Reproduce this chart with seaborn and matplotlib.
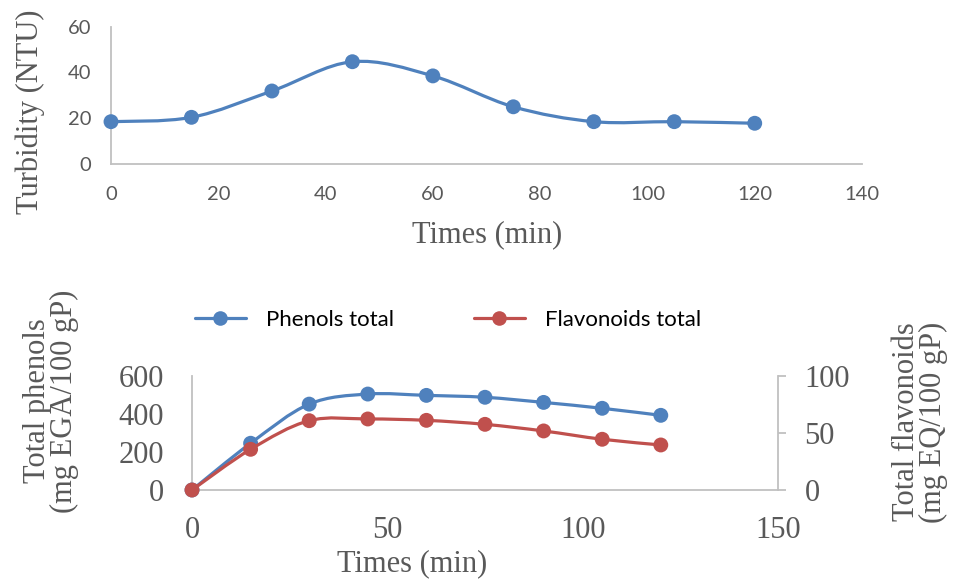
import numpy as np
import pandas as pd
import matplotlib
matplotlib.use("Agg")
import matplotlib.pyplot as plt
import seaborn as sns
from matplotlib.path import Path
from matplotlib.patches import PathPatch
from matplotlib.lines import Line2D

# ---- data ----
times = [0, 15, 30, 45, 60, 75, 90, 105, 120]
turbidity = [18.5, 20.4, 31.9, 44.7, 38.5, 25.0, 18.5, 18.5, 17.8]
phenols = [0, 246, 452, 505, 498, 488, 461, 430, 393]
flavonoids = [0, 35.7, 60.8, 62.3, 61.1, 57.6, 51.8, 44.5, 39.5]

top_xticks = [0, 20, 40, 60, 80, 100, 120, 140]
top_yticks = [0, 20, 40, 60]
bot_xticks = [0, 50, 100, 150]
left_yticks = [0, 200, 400, 600]
right_yticks = [0, 50, 100]

BLUE = "#4F81BD"
RED = "#C0504D"
GRAY_TXT = "#595959"
GRAY_AX = "#C0C0C0"

sns.set_theme(style="white")
plt.rcParams["font.family"] = ["DejaVu Sans"]

SERIF = "Liberation Serif"
SANS = "Lato"


def smooth_curve(ax, x, y, color, lw=2.3, zorder=2):
    p = np.column_stack([np.asarray(x, float), np.asarray(y, float)])
    n = len(p)
    verts = [tuple(p[0])]
    codes = [Path.MOVETO]
    for i in range(n - 1):
        p0 = p[i - 1] if i > 0 else p[i]
        p3 = p[i + 2] if i + 2 < n else p[i + 1]
        c1 = p[i] + (p[i + 1] - p0) / 6.0
        c2 = p[i + 1] - (p3 - p[i]) / 6.0
        verts += [tuple(c1), tuple(c2), tuple(p[i + 1])]
        codes += [Path.CURVE4] * 3
    patch = PathPatch(Path(verts, codes), facecolor="none", edgecolor=color,
                      lw=lw, zorder=zorder, capstyle="round", joinstyle="round")
    ax.add_patch(patch)


fig = plt.figure(figsize=(9.55, 5.79), dpi=100)
W, H = 955.0, 579.0

# ---------------- top chart ----------------
ax1 = fig.add_axes([111 / W, 1 - 164 / H, 751 / W, 137.3 / H])
df_t = pd.DataFrame({"Time": times, "Turbidity": turbidity})
smooth_curve(ax1, df_t["Time"], df_t["Turbidity"], BLUE)
sns.scatterplot(data=df_t, x="Time", y="Turbidity", ax=ax1, color=BLUE,
                s=115, edgecolor="none", zorder=3, legend=False, clip_on=False)
ax1.set_xlim(0, 140)
ax1.set_ylim(0, 60)
ax1.set_xticks(top_xticks)
ax1.set_yticks(top_yticks)
ax1.tick_params(axis="both", length=0, labelsize=14.5, colors=GRAY_TXT)
ax1.tick_params(axis="x", pad=16)
ax1.tick_params(axis="y", pad=14)
for lab in ax1.get_xticklabels() + ax1.get_yticklabels():
    lab.set_fontfamily(SANS)
for s in ["top", "right"]:
    ax1.spines[s].set_visible(False)
for s in ["left", "bottom"]:
    ax1.spines[s].set_color(GRAY_AX)
    ax1.spines[s].set_linewidth(1.3)
ax1.set_xlabel("")
ax1.set_ylabel("")
fig.text(487 / W, 1 - 235 / H, "Times (min)", ha="center", va="center",
         fontsize=22, family=SERIF, color=GRAY_TXT)
fig.text(30 / W, 1 - 112 / H, "Turbidity (NTU)", ha="center", va="center",
         rotation=90, fontsize=22, family=SERIF, color=GRAY_TXT)

# ---------------- bottom chart ----------------
ax2 = fig.add_axes([192 / W, 1 - 490 / H, 586 / W, 114 / H])
ax3 = ax2.twinx()
df_b = pd.DataFrame({"Time": times, "Phenols": phenols, "Flavonoids": flavonoids})

smooth_curve(ax2, df_b["Time"], df_b["Phenols"], BLUE)
sns.scatterplot(data=df_b, x="Time", y="Phenols", ax=ax2, color=BLUE,
                s=115, edgecolor="none", zorder=3, legend=False, clip_on=False)
smooth_curve(ax3, df_b["Time"], df_b["Flavonoids"], RED)
sns.scatterplot(data=df_b, x="Time", y="Flavonoids", ax=ax3, color=RED,
                s=115, edgecolor="none", zorder=3, legend=False, clip_on=False)

ax2.set_xlim(0, 150)
ax2.set_ylim(0, 600)
ax3.set_ylim(0, 100)
ax2.set_xticks(bot_xticks)
ax2.set_yticks(left_yticks)
ax3.set_yticks(right_yticks)
ax2.tick_params(axis="both", length=0, labelsize=22, colors=GRAY_TXT)
ax2.tick_params(axis="x", pad=19)
ax2.tick_params(axis="y", pad=20)
ax3.tick_params(axis="y", length=6, width=1.3, color=GRAY_AX, direction="out",
                labelsize=22, labelcolor=GRAY_TXT, pad=13)
for lab in ax2.get_xticklabels() + ax2.get_yticklabels() + ax3.get_yticklabels():
    lab.set_fontfamily(SERIF)
for a in (ax2, ax3):
    a.spines["top"].set_visible(False)
    for s in ["left", "bottom", "right"]:
        a.spines[s].set_color(GRAY_AX)
        a.spines[s].set_linewidth(1.3)
    a.set_xlabel("")
    a.set_ylabel("")
ax2.spines["right"].set_visible(False)
ax3.spines["left"].set_visible(False)
ax3.spines["bottom"].set_visible(False)
ax3.grid(False)
ax2.grid(False)

fig.text(51 / W, 1 - 401 / H, "Total phenols\n(mg EGA/100 gP)", ha="center",
         va="center", rotation=90, fontsize=22, family=SERIF, color=GRAY_TXT,
         linespacing=0.95)
fig.text(920 / W, 1 - 422 / H, "Total flavonoids\n(mg EQ/100 gP)", ha="center",
         va="center", rotation=90, fontsize=22, family=SERIF, color=GRAY_TXT,
         linespacing=0.95)
fig.text(412 / W, 1 - 578 / H, "Times (min)", ha="center", va="bottom",
         fontsize=22, family=SERIF, color=GRAY_TXT)

handles = [
    Line2D([], [], color=BLUE, lw=2.3, marker="o", markersize=10.5,
           markeredgecolor="none"),
    Line2D([], [], color=RED, lw=2.3, marker="o", markersize=10.5,
           markeredgecolor="none"),
]
fig.legend(handles, ["Phenols total", "Flavonoids total"], loc="center",
           bbox_to_anchor=(448 / W, 1 - 320 / H), ncol=2, frameon=False,
           prop={"family": SANS, "size": 16}, handlelength=2.3,
           handletextpad=0.9, columnspacing=3.6, labelcolor="black")

fig.savefig("out.png", dpi=100)
